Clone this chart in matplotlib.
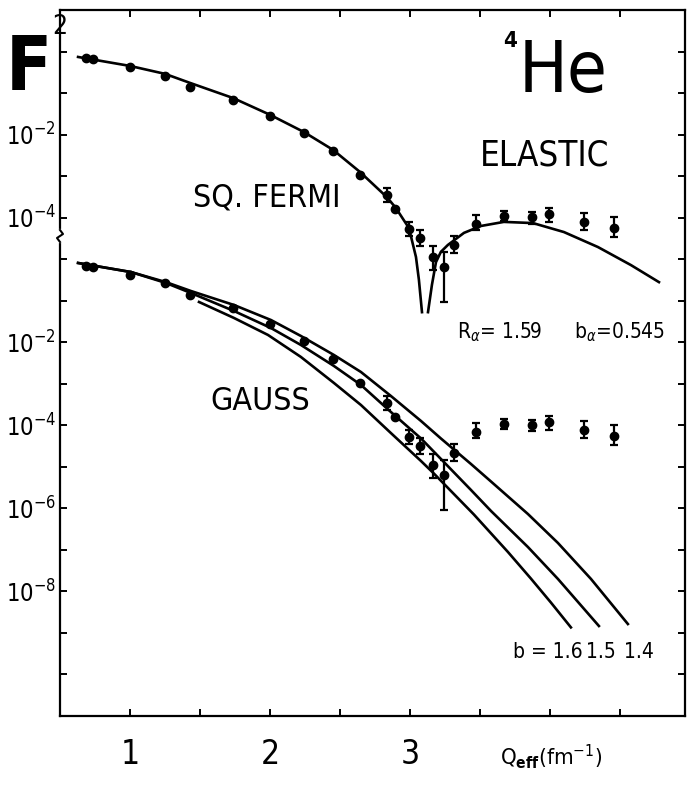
import matplotlib
matplotlib.use('Agg')
import matplotlib.pyplot as plt
import numpy as np

# ---- measured elastic form factor of 4He (same points shown in both panels)
q_data = [0.686, 0.736, 1.00, 1.25, 1.43, 1.736, 2.00, 2.243, 2.45, 2.643, 2.836, 2.893,
          2.993, 3.071, 3.164, 3.243, 3.314, 3.471, 3.671, 3.871, 3.993, 4.243, 4.457]
f2_data = [0.70, 0.66, 0.42, 0.26, 0.14, 0.068, 0.028, 0.0109, 0.0040, 1.06e-3, 3.5e-4, 1.6e-4,
           5.3e-5, 3.2e-5, 1.13e-5, 6.5e-6, 2.2e-5, 7.0e-5, 1.1e-4, 1.04e-4, 1.22e-4, 7.9e-5, 5.6e-5]
f2_lo = [0.70, 0.66, 0.42, 0.26, 0.14, 0.068, 0.028, 0.0109, 0.0040, 1.06e-3, 2.4e-4, 1.6e-4,
         3.6e-5, 2.08e-5, 5.5e-6, 9.3e-7, 1.41e-5, 5.0e-5, 8.3e-5, 7.1e-5, 7.9e-5, 5.0e-5, 3.4e-5]
f2_hi = [0.70, 0.66, 0.42, 0.26, 0.14, 0.068, 0.028, 0.0109, 0.0040, 1.06e-3, 5.2e-4, 1.6e-4,
         7.9e-5, 5.0e-5, 2.08e-5, 1.49e-5, 3.6e-5, 1.15e-4, 1.45e-4, 1.36e-4, 1.7e-4, 1.29e-4, 1.03e-4]

# ---- squared Fermi fit (two branches around the diffraction zero)
fermi_q_a = [0.629, 1.0, 1.25, 1.43, 1.736, 2.0, 2.243, 2.45, 2.643, 2.836, 2.9, 2.993, 3.043, 3.064, 3.086]
fermi_f2_a = [0.74, 0.45, 0.29, 0.175, 0.076, 0.030, 0.0115, 0.0043, 1.26e-3, 3.1e-4, 1.7e-4,
              5.6e-5, 1.13e-5, 3.2e-6, 5.3e-7]
fermi_q_b = [3.129, 3.157, 3.186, 3.221, 3.271, 3.386, 3.507, 3.671, 3.879, 4.1, 4.343, 4.579, 4.779]
fermi_f2_b = [5.3e-7, 2.4e-6, 8.5e-6, 1.5e-5, 2.2e-5, 4.3e-5, 6.3e-5, 7.9e-5, 7.4e-5, 4.5e-5,
              1.96e-5, 7.2e-6, 2.8e-6]

# ---- gaussian fits, b = 1.4 / 1.5 / 1.6
g14_q = [0.629, 1.007, 1.257, 1.436, 1.743, 2.007, 2.221, 2.457, 2.65, 2.864, 3.079, 3.221,
         3.436, 3.579, 3.843, 4.057, 4.293, 4.557]
g14_f2 = [0.81, 0.49, 0.28, 0.171, 0.0788, 0.0343, 0.01415, 4.93e-3, 1.92e-3, 5.08e-4, 1.27e-4,
          4.82e-5, 1.17e-5, 4.43e-6, 7.3e-7, 1.47e-7, 2.0e-8, 1.64e-9]
g15_q = [0.629, 1.007, 1.257, 1.436, 1.743, 2.007, 2.221, 2.457, 2.65, 2.864, 3.079, 3.221,
         3.436, 3.579, 3.843, 4.057, 4.35]
g15_f2 = [0.81, 0.49, 0.267, 0.153, 0.0565, 0.0220, 8.59e-3, 2.68e-3, 9.35e-4, 2.09e-4, 4.82e-5,
          1.55e-5, 2.77e-6, 8.65e-7, 1.17e-7, 2.0e-8, 1.47e-9]
g16_q = [1.493, 1.743, 1.986, 2.221, 2.457, 2.65, 2.864, 3.079, 3.171, 3.457, 3.7, 3.864, 4.007, 4.15]
g16_f2 = [0.0932, 0.0384, 0.01496, 4.42e-3, 1.045e-3, 3.08e-4, 6.5e-5, 1.38e-5, 6.9e-6, 7.1e-7,
          8.9e-8, 2.04e-8, 5.4e-9, 1.36e-9]

x_ticks = [1.0, 1.5, 2.0, 2.5, 3.0, 3.5, 4.0, 4.5]
x_labels = ['1', '', '2', '', '3', '', '', '']
shift = 1e5   # upper panel is moved up five decades

plt.rcParams['font.family'] = ['DejaVu Sans']
plt.rcParams['font.stretch'] = 'condensed'
plt.rcParams['mathtext.fontset'] = 'dejavusans'

W, H = 688, 787
fig = plt.figure(figsize=(W / 100, H / 100), dpi=100)
ax = fig.add_axes([60 / W, 1 - 716 / H, 625 / W, 706 / H])
ax.set_yscale('log')
ax.set_xlim(0.5, 4.965)
ax.set_ylim(1e-11, 1e6)

q = np.array(q_data)
f2 = np.array(f2_data)
err = np.array([f2 - np.array(f2_lo), np.array(f2_hi) - f2])

for s in (shift, 1.0):
    ax.errorbar(q, f2 * s, yerr=err * s, fmt='o', color='black', ms=6,
                elinewidth=1.6, capsize=3, capthick=1.6)

ax.plot(fermi_q_a, np.array(fermi_f2_a) * shift, color='black', lw=1.9)
ax.plot(fermi_q_b, np.array(fermi_f2_b) * shift, color='black', lw=1.9)
ax.plot(g14_q, g14_f2, color='black', lw=1.9)
ax.plot(g15_q, g15_f2, color='black', lw=1.9)
ax.plot(g16_q, g16_f2, color='black', lw=1.9)

# axes styling
for sp in ax.spines.values():
    sp.set_linewidth(1.6)
ax.set_yticks([10.0 ** k for k in range(-10, 6)])
ylab = {3: r'$10^{-2}$', 1: r'$10^{-4}$', -2: r'$10^{-2}$', -4: r'$10^{-4}$',
        -6: r'$10^{-6}$', -8: r'$10^{-8}$'}
ax.set_yticklabels([ylab.get(k, '') for k in range(-10, 6)], fontsize=17)
ax.yaxis.set_minor_locator(matplotlib.ticker.NullLocator())
ax.set_xticks(x_ticks)
ax.set_xticklabels(x_labels, fontsize=24)
ax.tick_params(direction='in', length=5, width=1.4, top=True, right=True)
ax.tick_params(axis='x', pad=16)
ax.tick_params(axis='y', pad=3)

# axis break mark between the two panels
fx = lambda px: px / W
fy = lambda py: 1 - py / H
ax.add_line(plt.Line2D([fx(60), fx(60)], [fy(231), fy(241)], transform=fig.transFigure,
                       color='white', lw=3, zorder=5, clip_on=False))
ax.add_line(plt.Line2D([fx(60), fx(63), fx(57), fx(60)], [fy(230), fy(234), fy(238), fy(242)],
                       transform=fig.transFigure, color='black', lw=1.5, zorder=6, clip_on=False))

# labels
fig.text(fx(6), fy(90), 'F', fontsize=54, fontweight='bold', va='baseline')
fig.text(fx(52), fy(34), '2', fontsize=19, va='baseline')
fig.text(fx(503), fy(47), '4', fontsize=16, fontweight='bold', va='baseline')
fig.text(fx(519), fy(92), 'He', fontsize=52, va='baseline')
fig.text(fx(480), fy(165), 'ELASTIC', fontsize=25, va='baseline')
fig.text(fx(193), fy(207), 'SQ. FERMI', fontsize=23, va='baseline')
fig.text(fx(210), fy(410), 'GAUSS', fontsize=23, va='baseline')
fig.text(fx(457), fy(338), r'R$_\alpha$= 1.59', fontsize=15, va='baseline')
fig.text(fx(665), fy(338), r'b$_\alpha$=0.545', fontsize=15, va='baseline', ha='right')
fig.text(fx(583), fy(658), 'b = 1.6', fontsize=15, va='baseline', ha='right')
fig.text(fx(601), fy(658), '1.5', fontsize=15, va='baseline', ha='center')
fig.text(fx(639), fy(658), '1.4', fontsize=15, va='baseline', ha='center')
fig.text(fx(500), fy(765), r'Q$_{\mathbf{eff}}$(fm$^{-1}$)', fontsize=16, va='baseline')

fig.savefig('out.png', dpi=100)
